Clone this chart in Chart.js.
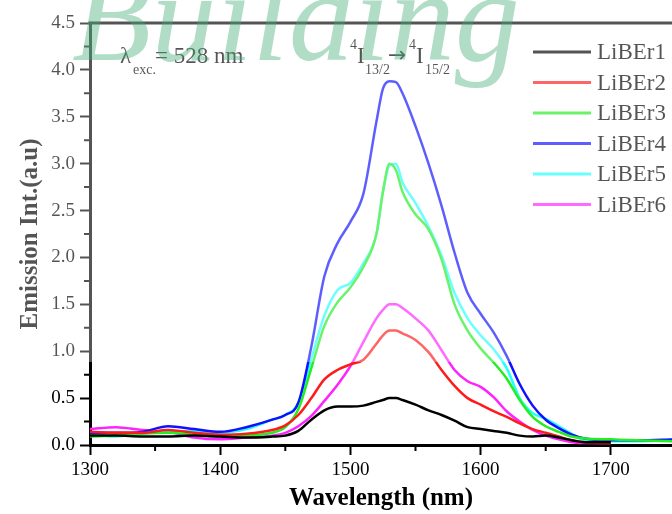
<!DOCTYPE html>
<html>
<head>
<meta charset="utf-8">
<script src="https://cdn.jsdelivr.net/npm/chart.js@4.4.1/dist/chart.umd.min.js"></script>
<style>
  html, body { margin: 0; padding: 0; background: #fff; overflow: hidden; }
  #wrap { width: 672px; height: 514px; }
</style>
</head>
<body>
<div id="wrap"><canvas id="myChart" width="672" height="514"></canvas></div>
<script>
// emission spectra, wavelength in nm
const wavelengths = [
  1300, 1320, 1340, 1360, 1380, 1400, 1420, 1440, 1450, 1460,
  1470, 1480, 1490, 1500, 1510, 1520, 1525, 1530, 1535, 1540,
  1550, 1560, 1570, 1580, 1590, 1600, 1610, 1620, 1630, 1640,
  1650, 1660, 1670, 1680, 1700, 1720, 1750,
];
const liber1 = [
  0.10, 0.10, 0.09, 0.09, 0.10, 0.09, 0.08, 0.09, 0.10, 0.15,
  0.27, 0.37, 0.41, 0.41, 0.42, 0.46, 0.48, 0.50, 0.50, 0.48,
  0.43, 0.37, 0.32, 0.26, 0.19, 0.17, 0.15, 0.13, 0.10, 0.09,
  0.10, 0.08, 0.05, 0.03, 0.03, null, null,
];
const liber2 = [
  0.14, 0.13, 0.13, 0.16, 0.13, 0.11, 0.12, 0.16, 0.21, 0.32,
  0.50, 0.70, 0.80, 0.86, 0.91, 1.08, 1.17, 1.22, 1.22, 1.19,
  1.12, 0.99, 0.80, 0.63, 0.50, 0.43, 0.36, 0.30, 0.23, 0.17,
  0.13, 0.09, 0.05, 0.03, 0.02, null, null,
];
const liber3 = [
  0.09, 0.10, 0.12, 0.13, 0.11, 0.09, 0.10, 0.13, 0.19, 0.38,
  0.82, 1.27, 1.52, 1.68, 1.90, 2.25, 2.70, 3.00, 2.93, 2.70,
  2.46, 2.30, 1.98, 1.50, 1.22, 1.03, 0.88, 0.71, 0.48, 0.30,
  0.20, 0.14, 0.09, 0.07, 0.06, 0.05, 0.04,
];
const liber4 = [
  0.13, 0.13, 0.14, 0.20, 0.17, 0.14, 0.19, 0.27, 0.32, 0.45,
  1.05, 1.80, 2.15, 2.38, 2.68, 3.45, 3.80, 3.88, 3.87, 3.75,
  3.40, 3.00, 2.55, 2.05, 1.62, 1.40, 1.20, 0.95, 0.65, 0.42,
  0.27, 0.18, 0.11, 0.07, 0.05, 0.05, 0.06,
];
const liber5 = [
  0.12, 0.09, 0.13, 0.14, 0.15, 0.13, 0.17, 0.27, 0.32, 0.45,
  0.92, 1.38, 1.65, 1.73, 1.94, 2.25, 2.70, 2.98, 3.00, 2.80,
  2.58, 2.33, 2.02, 1.62, 1.35, 1.17, 1.02, 0.82, 0.50, 0.34,
  0.28, 0.20, 0.12, 0.05, 0.04, 0.04, 0.06,
];
const liber6 = [
  0.17, 0.19, 0.16, 0.14, 0.08, 0.06, 0.08, 0.10, 0.13, 0.20,
  0.31, 0.47, 0.64, 0.84, 1.10, 1.35, 1.44, 1.50, 1.50, 1.46,
  1.35, 1.22, 1.01, 0.80, 0.68, 0.62, 0.51, 0.36, 0.25, 0.16,
  0.10, 0.06, 0.03, 0.02, 0.02, null, null,
];

const seriesNames = ["LiBEr1", "LiBEr2", "LiBEr3", "LiBEr4", "LiBEr5", "LiBEr6"];
const seriesValues = [liber1, liber2, liber3, liber4, liber5, liber6];
const seriesColors = ["#000000", "#ff1a1a", "#22ee22", "#1010ff", "#22ffff", "#ff22ff"];

const serif = '"Liberation Serif", "Times New Roman", serif';
Chart.defaults.font.family = serif;
Chart.defaults.color = "#000";

const datasets = seriesNames.map((name, i) => ({
  label: name,
  data: wavelengths.map((w, j) => ({ x: w, y: seriesValues[i][j] })),
  borderColor: seriesColors[i],
  borderWidth: 2.5,
  pointRadius: 0,
  fill: false,
  cubicInterpolationMode: "monotone",
  spanGaps: false,
}));

const isMajor = (v, step) => Math.abs(v / step - Math.round(v / step)) < 1e-6;

// small helper for the label pieces (main text, sub/superscripts)
function put(ctx, text, x, y, size, family) {
  ctx.font = size + "px " + (family || serif);
  ctx.fillText(text, x, y);
}

// minor ticks, top frame, labels, legend, haze and the watermark
const extras = {
  id: "extras",
  afterDraw(chart) {
    const { ctx, chartArea, scales } = chart;
    const x = scales.x;
    const y = scales.y;
    ctx.save();

    ctx.strokeStyle = "#000";
    ctx.lineWidth = 2;
    ctx.beginPath();
    x.ticks.forEach((t) => {
      if (!isMajor(t.value, 100)) {
        const px = x.getPixelForValue(t.value);
        ctx.moveTo(px, chartArea.bottom);
        ctx.lineTo(px, chartArea.bottom + 6);
      }
    });
    y.ticks.forEach((t) => {
      if (!isMajor(t.value, 0.5)) {
        const py = y.getPixelForValue(t.value);
        ctx.moveTo(chartArea.left, py);
        ctx.lineTo(chartArea.left - 6, py);
      }
    });
    ctx.stroke();

    // top frame line
    ctx.lineWidth = 3;
    ctx.beginPath();
    ctx.moveTo(chartArea.left - 1.5, chartArea.top);
    ctx.lineTo(chart.width, chartArea.top);
    ctx.stroke();

    ctx.fillStyle = "#000";
    ctx.textBaseline = "alphabetic";
    ctx.textAlign = "left";

    // excitation label
    put(ctx, "λ", 120, 63, 23);
    put(ctx, "exc.", 133, 74, 14);
    put(ctx, "= 528 nm", 155, 63, 23);

    // transition label
    put(ctx, "4", 350, 49, 14);
    put(ctx, "I", 357, 63, 23);
    put(ctx, "13/2", 365, 74, 14);
    put(ctx, "→", 388, 62, 22, '"DejaVu Sans", sans-serif');
    put(ctx, "4", 409, 49, 14);
    put(ctx, "I", 416, 63, 23);
    put(ctx, "15/2", 425, 74, 14);

    // legend
    ctx.font = "23px " + serif;
    ctx.textBaseline = "middle";
    chart.data.datasets.forEach((ds, i) => {
      const ly = 52 + i * 30.5;
      ctx.strokeStyle = ds.borderColor;
      ctx.lineWidth = 3;
      ctx.beginPath();
      ctx.moveTo(533, ly);
      ctx.lineTo(591, ly);
      ctx.stroke();
      ctx.fillStyle = "#000";
      ctx.fillText(ds.label, 597, ly + 1);
    });

    // pale haze over the upper part
    ctx.fillStyle = "rgba(255,255,255,0.33)";
    ctx.fillRect(0, 0, chart.width, 362);

    // watermark
    ctx.font = "italic 130px " + serif;
    ctx.textBaseline = "alphabetic";
    ctx.fillStyle = "rgba(70,175,120,0.42)";
    ctx.fillText("Building", 72, 60);

    ctx.restore();
  },
};

const ctx = document.getElementById("myChart").getContext("2d");

const myChart = new Chart(ctx, {
  type: "line",
  data: { datasets },
  options: {
    responsive: false,
    animation: false,
    devicePixelRatio: 1,
    layout: { padding: { top: 23, right: 0, left: 0, bottom: 0 } },
    plugins: {
      legend: { display: false },
      tooltip: { enabled: false },
    },
    scales: {
      x: {
        type: "linear",
        min: 1300,
        max: 1747,
        afterFit: (scale) => { scale.height = 69; },
        border: { display: true, width: 3, color: "#000" },
        grid: {
          drawOnChartArea: false,
          drawTicks: true,
          tickLength: 10,
          tickWidth: 2,
          tickColor: (c) => (c.tick && isMajor(c.tick.value, 100) ? "#000" : "rgba(0,0,0,0)"),
        },
        ticks: {
          stepSize: 50,
          includeBounds: false,
          autoSkip: false,
          maxRotation: 0,
          padding: 4,
          font: { size: 19 },
          color: "#000",
          callback: (v) => (isMajor(v, 100) ? String(v) : ""),
        },
        title: {
          display: true,
          text: "Wavelength (nm)",
          font: { size: 25, weight: "bold" },
          color: "#000",
          padding: { top: 0, bottom: 0 },
        },
      },
      y: {
        min: 0,
        max: 4.5,
        afterFit: (scale) => { scale.width = 90; },
        border: { display: true, width: 3, color: "#000" },
        grid: {
          drawOnChartArea: false,
          drawTicks: true,
          tickLength: 10,
          tickWidth: 2,
          tickColor: (c) => (c.tick && isMajor(c.tick.value, 0.5) ? "#000" : "rgba(0,0,0,0)"),
        },
        ticks: {
          stepSize: 0.25,
          autoSkip: false,
          padding: 5,
          font: { size: 19 },
          color: "#000",
          callback: (v) => (isMajor(v, 0.5) ? v.toFixed(1) : ""),
        },
        title: {
          display: true,
          text: "Emission Int.(a.u)",
          font: { size: 25, weight: "bold" },
          color: "#000",
          padding: { top: 16, bottom: 0 },
        },
      },
    },
  },
  plugins: [extras],
});
</script>
</body>
</html>
